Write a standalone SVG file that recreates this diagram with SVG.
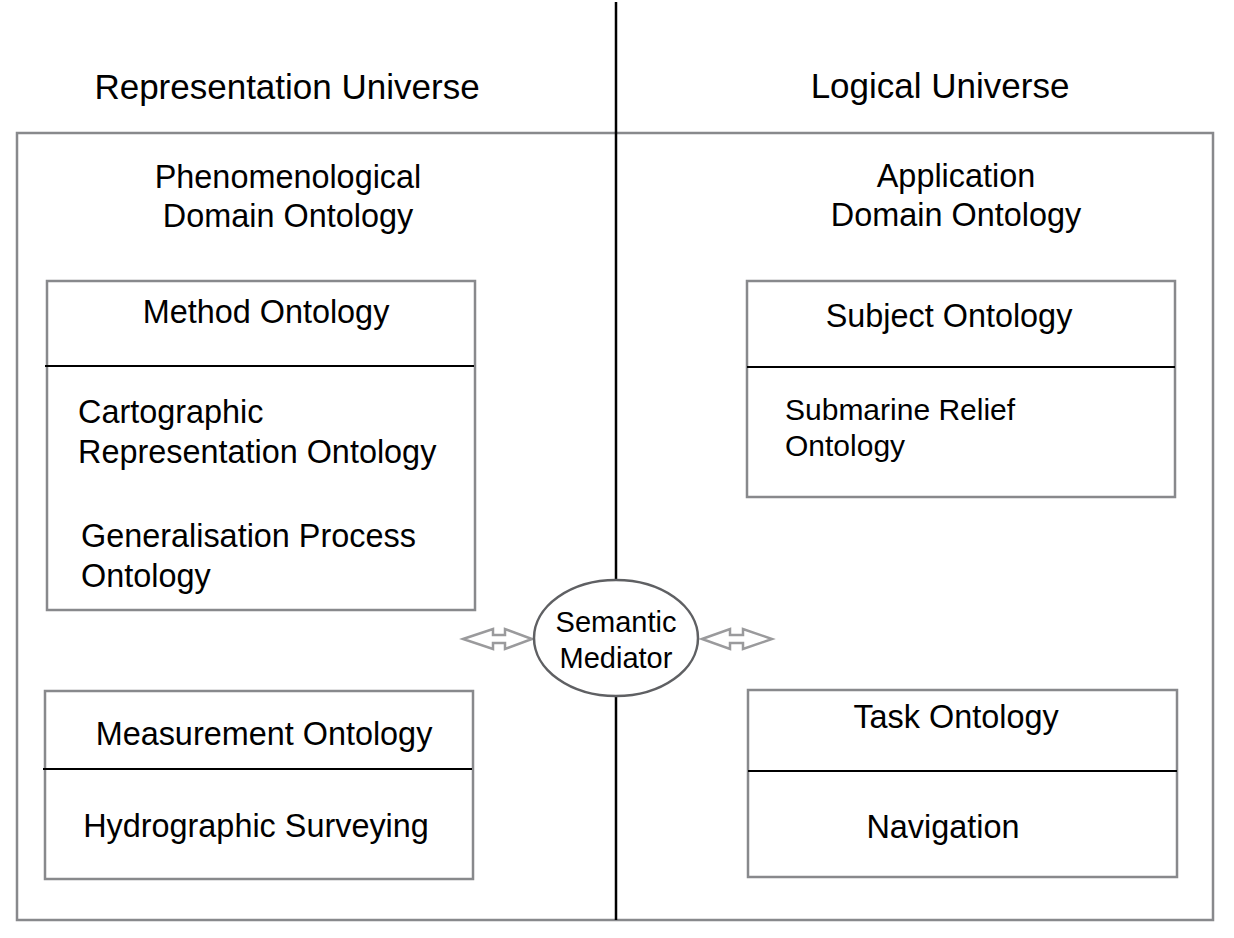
<svg xmlns="http://www.w3.org/2000/svg" width="1234" height="938" viewBox="0 0 1234 938">
<style>
text{font-family:"Liberation Sans",Arial,Helvetica,sans-serif;fill:#000}
.t34{font-size:35px}
.t32{font-size:32.4px}
.t30{font-size:30px}
.t29{font-size:29px}
.c{text-anchor:middle}
.box{fill:#fff;stroke:#88898c;stroke-width:2.5}
.div{stroke:#000;stroke-width:2}
.arr{fill:#fff;stroke:#9a9a9c;stroke-width:2.5;stroke-linejoin:miter}
</style>
<rect width="1234" height="938" fill="#fff"/>
<g id="outer">
<rect x="17" y="133" width="1196" height="787" fill="#fff" stroke="#88898c" stroke-width="2.5"/>
</g>
<g id="titles">
<text class="t34 c" x="287" y="99">Representation Universe</text>
<text class="t34 c" x="940" y="98">Logical Universe</text>
<text class="t32 c" x="288" y="188">Phenomenological</text>
<text class="t32 c" x="288" y="227">Domain Ontology</text>
<text class="t32 c" x="956" y="187">Application</text>
<text class="t32 c" x="956" y="226">Domain Ontology</text>
</g>
<g id="connectors">
<line x1="616" y1="2" x2="616" y2="920" stroke="#000" stroke-width="2.5"/>
<polygon class="arr" points="463,639 493,629 493,635 505,635 505,629 532,639 505,649 505,643 493,643 493,649"/>
<polygon class="arr" points="702,639 730,629 730,635 743,635 743,629 772,639 743,649 743,643 730,643 730,649"/>
</g>
<g id="method">
<rect class="box" x="47" y="281" width="428" height="329"/>
<line class="div" x1="45" y1="366" x2="474" y2="366"/>
<text class="t32 c" x="266" y="323">Method Ontology</text>
<text class="t32" x="78" y="423">Cartographic</text>
<text class="t32" x="78" y="463">Representation Ontology</text>
<text class="t32" x="81" y="547">Generalisation Process</text>
<text class="t32" x="81" y="587">Ontology</text>
</g>
<g id="measurement">
<rect class="box" x="45" y="691" width="428" height="188"/>
<line class="div" x1="43" y1="769" x2="472" y2="769"/>
<text class="t32 c" x="264" y="745">Measurement Ontology</text>
<text class="t32 c" x="256" y="837">Hydrographic Surveying</text>
</g>
<g id="subject">
<rect class="box" x="747" y="281" width="428" height="216"/>
<line class="div" x1="747" y1="367" x2="1175" y2="367"/>
<text class="t32 c" x="949" y="327">Subject Ontology</text>
<text class="t30" x="785" y="420">Submarine Relief</text>
<text class="t30" x="785" y="456">Ontology</text>
</g>
<g id="task">
<rect class="box" x="748" y="690" width="429" height="187"/>
<line class="div" x1="748" y1="771" x2="1177" y2="771"/>
<text class="t32 c" x="956" y="728">Task Ontology</text>
<text class="t32 c" x="943" y="838">Navigation</text>
</g>
<g id="mediator">
<ellipse cx="616" cy="638" rx="82" ry="58" fill="#fff" stroke="#5f6063" stroke-width="2.5"/>
<text class="t29 c" x="616" y="632">Semantic</text>
<text class="t29 c" x="616" y="668">Mediator</text>
</g>
</svg>
